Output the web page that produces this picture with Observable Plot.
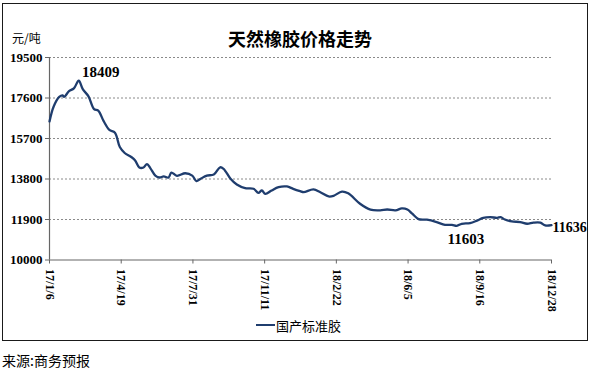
<!DOCTYPE html>
<html>
<head>
<meta charset="utf-8">
<script src="https://cdn.jsdelivr.net/npm/d3@7"></script>
<script src="https://cdn.jsdelivr.net/npm/@observablehq/plot@0.6"></script>
<style>
  html, body { margin: 0; padding: 0; background: #fff; }
  #page { position: relative; width: 592px; height: 369px; overflow: hidden; font-family: "Noto Sans CJK SC", sans-serif; }
  #box { position: absolute; left: 2px; top: 3px; width: 586px; height: 338px; box-sizing: border-box; border: 1.5px solid #1a1a1a; }
  #title { position: absolute; left: 0; top: 26px; width: 600px; height: 24px; text-align: center; font-size: 18px; font-weight: bold; line-height: 24px; color: #000; }
  #unit { position: absolute; left: 12px; top: 30px; font-size: 12px; line-height: 16px; color: #000; }
  #chart { position: absolute; left: 0; top: 50px; }
  #legend { position: absolute; left: 256px; top: 316px; height: 18px; display: flex; align-items: center; font-size: 13px; color: #000; }
  #legend .sw { width: 19px; height: 0; border-top: 2.5px solid #1f3d6e; margin-right: 1px; }
  #source { position: absolute; left: 2px; top: 352px; font-size: 14px; line-height: 16px; color: #000; white-space: nowrap; }
</style>
</head>
<body>
<div id="page">
  <div id="box"></div>
  <div id="unit">元/吨</div>
  <div id="title">天然橡胶价格走势</div>
  <div id="chart"></div>
  <div id="legend"><span class="sw"></span><span id="legendText"></span></div>
  <div id="source">来源:商务预报</div>
</div>
<script>
const seriesName = "国产标准胶";
const dates = [
  "2017-01-06","2017-01-12","2017-01-20","2017-01-25","2017-01-27","2017-02-03","2017-02-10","2017-02-17",
  "2017-02-23","2017-03-03","2017-03-11","2017-03-17","2017-03-25","2017-04-02","2017-04-10","2017-04-17",
  "2017-04-24","2017-05-04","2017-05-09","2017-05-15","2017-05-21","2017-05-26","2017-05-31","2017-06-07",
  "2017-06-13","2017-06-19","2017-06-26","2017-06-30","2017-07-08","2017-07-20","2017-07-30","2017-08-05",
  "2017-08-11","2017-08-20","2017-08-30","2017-09-08","2017-09-13","2017-09-23","2017-10-02","2017-10-14",
  "2017-10-26","2017-11-02","2017-11-07","2017-11-12","2017-11-21","2017-12-01","2017-12-13","2017-12-22",
  "2018-01-01","2018-01-06","2018-01-20","2018-01-30","2018-02-11","2018-02-18","2018-03-02","2018-03-11",
  "2018-03-28","2018-04-12","2018-04-26","2018-05-06","2018-05-18","2018-05-27","2018-06-04","2018-06-11",
  "2018-06-20","2018-07-02","2018-07-16","2018-07-28","2018-08-07","2018-08-14","2018-08-21","2018-09-02",
  "2018-09-12","2018-09-21","2018-10-01","2018-10-11","2018-10-16","2018-10-22","2018-11-01","2018-11-13",
  "2018-11-23","2018-12-02","2018-12-12","2018-12-19","2018-12-28"
];
const prices = [
  16500,17200,17650,17720,17650,17920,18050,18409,
  18000,17680,17080,17010,16500,16100,15970,15300,
  15020,14820,14670,14340,14340,14500,14300,13960,
  13870,13920,13870,14100,13950,14070,13960,13700,
  13810,13960,14010,14350,14280,13810,13540,13370,
  13340,13150,13260,13100,13260,13420,13450,13340,
  13230,13180,13310,13180,12980,13010,13210,13130,
  12640,12360,12330,12370,12330,12420,12370,12170,
  11920,11890,11780,11650,11650,11603,11700,11730,
  11850,11980,12010,11980,12010,11900,11810,11780,
  11700,11750,11750,11620,11636
];
const yTicks = [10000, 11900, 13800, 15700, 17600, 19500];
const xTickDates = ["2017-01-06","2017-04-19","2017-07-31","2017-11-11","2018-02-22","2018-06-05","2018-09-16","2018-12-28"];
const annoDates = ["2017-02-17","2018-08-14","2018-12-28"];
const annoValues = [18409, 11603, 11636];

document.getElementById("legendText").textContent = seriesName;

const parse = d3.utcParse("%Y-%m-%d");
const data = dates.map((d, i) => ({date: parse(d), value: prices[i]}));
const xTicks = xTickDates.map(parse);
const anno = annoDates.map((d, i) => ({date: parse(d), value: annoValues[i], label: String(annoValues[i])}));
const fmt = d => `${String(d.getUTCFullYear()).slice(2)}/${d.getUTCMonth() + 1}/${d.getUTCDate()}`;
const lineColor = "#1f3d6e";

const chart = Plot.plot({
  width: 592,
  height: 268,
  marginLeft: 49,
  marginRight: 41,
  marginTop: 7,
  marginBottom: 58.5,
  x: {type: "utc", domain: [xTicks[0], xTicks[xTicks.length - 1]]},
  y: {domain: [10000, 19500]},
  style: {fontFamily: "'Liberation Serif', 'Times New Roman', serif", fontWeight: "bold", fontSize: "12px", color: "#000", background: "transparent"},
  marks: [
    Plot.ruleY(yTicks.slice(1), {stroke: "#8a8a8a", strokeDasharray: "2,2", strokeWidth: 1, strokeOpacity: 1}),
    Plot.axisY({ticks: yTicks, tickSize: 4, tickPadding: 3, label: null, tickFormat: d => String(d), fontSize: 13, stroke: "#666", strokeOpacity: 1}),
    Plot.axisX({ticks: xTicks, tickSize: 4, tickPadding: 5, tickRotate: 90, label: null, tickFormat: fmt, stroke: "#666", strokeOpacity: 1}),
    Plot.ruleX([xTicks[0]], {stroke: "#666", strokeWidth: 1.2}),
    Plot.ruleY([10000], {stroke: "#666", strokeWidth: 1.2}),
    Plot.lineY(data, {x: "date", y: "value", stroke: lineColor, strokeWidth: 2.3, curve: "catmull-rom"}),
    Plot.text(anno.slice(0, 1), {x: "date", y: "value", text: "label", dx: 22, dy: -9, fontSize: 15, fontWeight: "bold", textAnchor: "middle"}),
    Plot.text(anno.slice(1, 2), {x: "date", y: "value", text: "label", dx: 9, dy: 13, fontSize: 15, fontWeight: "bold", textAnchor: "middle"}),
    Plot.text(anno.slice(2, 3), {x: "date", y: "value", text: "label", dx: 1, dy: 2, fontSize: 14, fontWeight: "bold", textAnchor: "start"})
  ]
});
document.getElementById("chart").appendChild(chart);
</script>
</body>
</html>
